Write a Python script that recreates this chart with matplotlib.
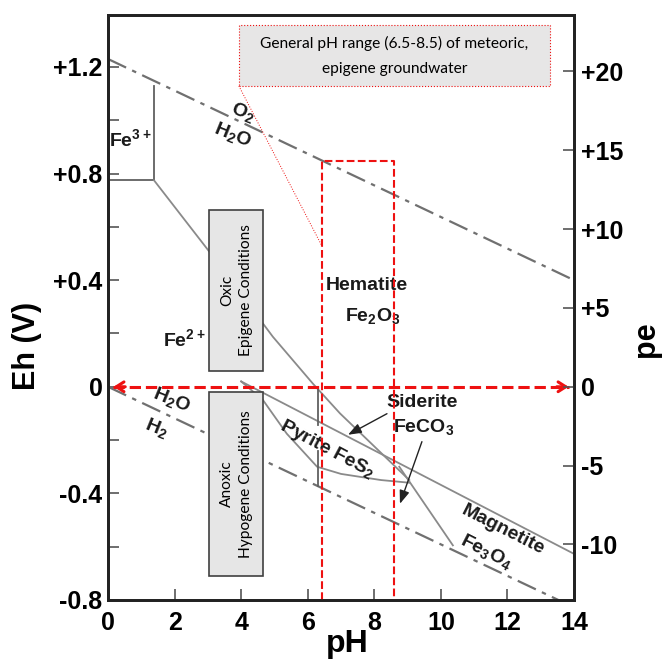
import matplotlib
matplotlib.use("Agg")
import matplotlib.pyplot as plt
from matplotlib.patches import Rectangle

plt.rcParams['font.family'] = ['Liberation Sans', 'DejaVu Sans']
plt.rcParams['mathtext.default'] = 'regular'

# --- data (pH, Eh in V) ---
water_ph = [0, 14]
o2_eh = [1.23, 0.40]
h2_eh = [0.0, -0.828]

fe3_fe2_ph = [0, 1.38]
fe3_fe2_eh = [0.775, 0.775]
fe3_hem_ph = [1.38, 1.38]
fe3_hem_eh = [0.775, 1.13]
fe2_hem_ph = [1.38, 3.0, 4.95, 6.16, 6.97, 9.05]
fe2_hem_eh = [0.775, 0.514, 0.188, 0.011, -0.10, -0.35]
pyr_upper_ph = [4.0, 14.0]
pyr_upper_eh = [0.02, -0.627]
pyr_lower_ph = [4.0, 4.65, 5.37, 6.28, 7.0, 8.2, 9.05]
pyr_lower_eh = [0.02, -0.049, -0.176, -0.30, -0.327, -0.35, -0.36]
sid_mag_ph = [8.75, 10.36]
sid_mag_eh = [-0.30, -0.595]
vert_ph = 6.3
vert_eh_top = [-0.008, -0.143]
vert_eh_bot = [-0.24, -0.373]

range_ph = [6.44, 8.59]
range_top = 0.848

eh_ticks = [-0.8, -0.4, 0.0, 0.4, 0.8, 1.2]
eh_labels = ['-0.8', '-0.4', '0', '+0.4', '+0.8', '+1.2']
eh_minor = [-0.6, -0.2, 0.2, 0.6, 1.0]
pe_ticks = [-10, -5, 0, 5, 10, 15, 20]
pe_labels = ['-10', '-5', '0', '+5', '+10', '+15', '+20']
ph_ticks = [0, 2, 4, 6, 8, 10, 12, 14]

fig = plt.figure(figsize=(6.64, 6.62), dpi=100)
ax = fig.add_axes([0.1627, 0.0937, 0.7018, 0.8836])
ax.set_xlim(0, 14)
ax.set_ylim(-0.8, 1.395)

gray = '#8a8a8a'
ax.plot(water_ph, o2_eh, color='#707070', lw=1.6, dashes=(9, 3, 2, 3), zorder=2)
ax.plot(water_ph, h2_eh, color='#707070', lw=1.6, dashes=(9, 3, 2, 3), zorder=2)
ax.plot(fe3_fe2_ph, fe3_fe2_eh, color='#606060', lw=1.3, zorder=2)
ax.plot(fe3_hem_ph, fe3_hem_eh, color='#606060', lw=1.3, zorder=2)
for xs, ys in [(fe2_hem_ph, fe2_hem_eh), (pyr_upper_ph, pyr_upper_eh),
               (pyr_lower_ph, pyr_lower_eh), (sid_mag_ph, sid_mag_eh)]:
    ax.plot(xs, ys, color=gray, lw=1.3, zorder=2)
ax.plot([vert_ph] * 2, vert_eh_top, color='#606060', lw=1.3, zorder=2)
ax.plot([vert_ph] * 2, vert_eh_bot, color='#606060', lw=1.3, zorder=2)

# condition boxes
box_font = ['Lato', 'DejaVu Sans']
for y0, y1, txt in [(0.06, 0.664, 'Oxic\nEpigene Conditions'),
                    (-0.709, -0.019, 'Anoxic\nHypogene Conditions')]:
    ax.add_patch(Rectangle((3.03, y0), 1.62, y1 - y0, facecolor='#e6e6e6',
                           edgecolor='#404040', lw=1.2, zorder=4))
    ax.text(3.86, (y0 + y1) / 2, txt, rotation=90, ha='center', va='center',
            family=box_font, fontsize=11.2, linespacing=1.5, zorder=5)

# pH range rectangle
ax.plot([range_ph[0], range_ph[0], range_ph[1], range_ph[1]],
        [-0.8, range_top, range_top, -0.8], color='#ee1111', lw=1.5,
        ls='--', zorder=6, clip_on=False)

# Eh = 0 double arrow
ax.plot([0.15, 13.85], [0, 0], color='#ee1111', lw=2.2, ls='--', zorder=6)
for tip, tail in [(0.08, 0.6), (13.92, 13.4)]:
    ax.annotate('', xy=(tip, 0), xytext=(tail, 0),
                arrowprops=dict(arrowstyle='->,head_length=0.55,head_width=0.35',
                                color='#ee1111', lw=2.2), zorder=6)

# callout
ax.add_patch(Rectangle((3.93, 1.129), 9.34, 0.229, facecolor='#e7e6e6',
                       edgecolor='#ee1111', lw=0.8, ls=':', zorder=7,
                       clip_on=False))
ax.plot([3.93, 6.44], [1.129, 0.525], color='#ee1111', lw=0.7, ls=':', zorder=7)
ax.text(8.6, 1.29, 'General pH range (6.5-8.5) of meteoric,', ha='center',
        va='center', family=box_font, fontsize=11.2, zorder=8)
ax.text(8.6, 1.194, 'epigene groundwater', ha='center', va='center',
        family=box_font, fontsize=11.2, zorder=8)

# species labels
lab = dict(fontsize=14, fontweight='bold', ha='center', va='center',
           color='#1a1a1a', zorder=5)
ax.text(0.68, 0.93, 'Fe$^{3+}$', **lab)
ax.text(2.3, 0.18, 'Fe$^{2+}$', **lab)
ax.text(4.05, 1.03, 'O$_2$', rotation=-22, **lab)
ax.text(3.75, 0.945, 'H$_2$O', rotation=-22, **lab)
ax.text(1.92, -0.05, 'H$_2$O', rotation=-22, **lab)
ax.text(1.47, -0.154, 'H$_2$', rotation=-22, **lab)
ax.text(7.78, 0.379, 'Hematite', **lab)
ax.text(7.96, 0.266, 'Fe$_2$O$_3$', **lab)
ax.text(9.43, -0.06, 'Siderite', **lab)
ax.text(9.49, -0.15, 'FeCO$_3$', **lab)
ax.text(6.58, -0.233, 'Pyrite FeS$_2$', rotation=-28, **lab)
ax.text(11.86, -0.537, 'Magnetite', rotation=-27, **lab)
ax.text(11.38, -0.62, 'Fe$_3$O$_4$', rotation=-27, **lab)

for head, tail in [((7.21, -0.18), (8.38, -0.101)), ((8.77, -0.439), (9.43, -0.206))]:
    ax.annotate('', xy=head, xytext=tail,
                arrowprops=dict(arrowstyle='-|>,head_length=0.8,head_width=0.3',
                                color='#222222', lw=1.0, shrinkA=0, shrinkB=0),
                zorder=5)

# axes styling
tick_font = dict(fontsize=18, fontweight='bold')
ax.set_xticks(ph_ticks)
ax.set_xticklabels([str(t) for t in ph_ticks], **tick_font)
ax.set_yticks(eh_ticks)
ax.set_yticklabels(eh_labels, **tick_font)
ax.set_yticks(eh_minor, minor=True)
ax.tick_params(axis='both', which='both', direction='in', length=8,
               width=1.2, color='#555555')
ax.tick_params(axis='x', pad=8)
ax.tick_params(axis='y', pad=4)
for s in ax.spines.values():
    s.set_linewidth(2)
    s.set_color('#222222')

ax2 = ax.twinx()
ax2.set_ylim(-0.8 / 0.05916, 1.395 / 0.05916)
ax2.set_yticks(pe_ticks)
ax2.set_yticklabels(pe_labels, **tick_font)
ax2.tick_params(axis='y', direction='in', length=8, width=1.2,
                color='#555555', pad=5)
for s in ax2.spines.values():
    s.set_linewidth(2)
    s.set_color('#222222')

ax.set_xlabel('pH', fontsize=23, fontweight='bold')
ax.xaxis.set_label_coords(0.513, -0.05)
ax.set_ylabel('Eh (V)', fontsize=22, fontweight='bold')
ax.yaxis.set_label_coords(-0.141, 0.434)
ax2.set_ylabel('pe', fontsize=22, fontweight='bold')
ax2.yaxis.set_label_coords(1.122, 0.445)

fig.savefig('out.png', dpi=100)
